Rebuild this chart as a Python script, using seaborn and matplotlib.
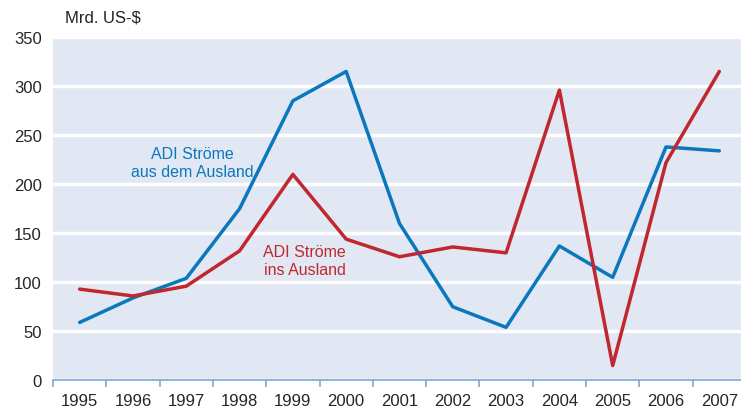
import numpy as np
import pandas as pd
import matplotlib.pyplot as plt
import seaborn as sns

# FDI flows in bn US-$
years = ["1995", "1996", "1997", "1998", "1999", "2000", "2001",
         "2002", "2003", "2004", "2005", "2006", "2007"]
inflows = [59, 84, 104, 175, 285, 315, 160, 75, 54, 137, 105, 238, 234]
outflows = [93, 86, 96, 132, 210, 144, 126, 136, 130, 296, 15, 222, 315]

df = pd.DataFrame({
    "year": years * 2,
    "value": inflows + outflows,
    "series": ["in"] * len(years) + ["out"] * len(years),
})

sns.set_style("white")
plt.rcParams['font.family'] = ['Liberation Sans', 'DejaVu Sans']

fig = plt.figure(figsize=(7.41, 4.10), dpi=100)
ax = fig.add_axes([0.0715, 0.07, 0.928, 0.837])
ax.set_facecolor("#e1e8f3")

sns.lineplot(data=df, x="year", y="value", hue="series",
             palette={"in": "#0b78bd", "out": "#c1272f"},
             linewidth=2.5, legend=False, ax=ax)

ax.set_ylim(0, 350)
ax.set_xlim(-0.5, 12.4)
ax.set_yticks(range(0, 351, 50))
ax.grid(axis="y", color="white", linewidth=2.5)
ax.set_axisbelow(True)

# category separators on the x axis
ax.set_xticks(np.arange(-0.5, 12.5, 1), minor=True)
ax.tick_params(axis="x", which="minor", bottom=True, length=5, width=1.2,
               color="#7ba7d7", direction="out")
ax.tick_params(axis="x", which="major", bottom=False, length=0, labelsize=12, pad=9)
ax.tick_params(axis="y", length=0, labelsize=12, pad=8)

for s in ["top", "right", "left"]:
    ax.spines[s].set_visible(False)
ax.spines["bottom"].set_color("#7ba7d7")
ax.spines["bottom"].set_linewidth(1.2)

ax.set_xlabel("")
ax.set_ylabel("")
ax.text(0.088, 0.975, "Mrd. US-$", transform=fig.transFigure, fontsize=12,
        ha="left", va="top", color="#222222")

ax.text(2.12, 222, "ADI Ströme\naus dem Ausland", color="#0b78bd", fontsize=11.5,
        ha="center", va="center", linespacing=1.25)
ax.text(4.22, 122, "ADI Ströme\nins Ausland", color="#c1272f", fontsize=11.5,
        ha="center", va="center", linespacing=1.25)

fig.savefig("out.png", dpi=100)
